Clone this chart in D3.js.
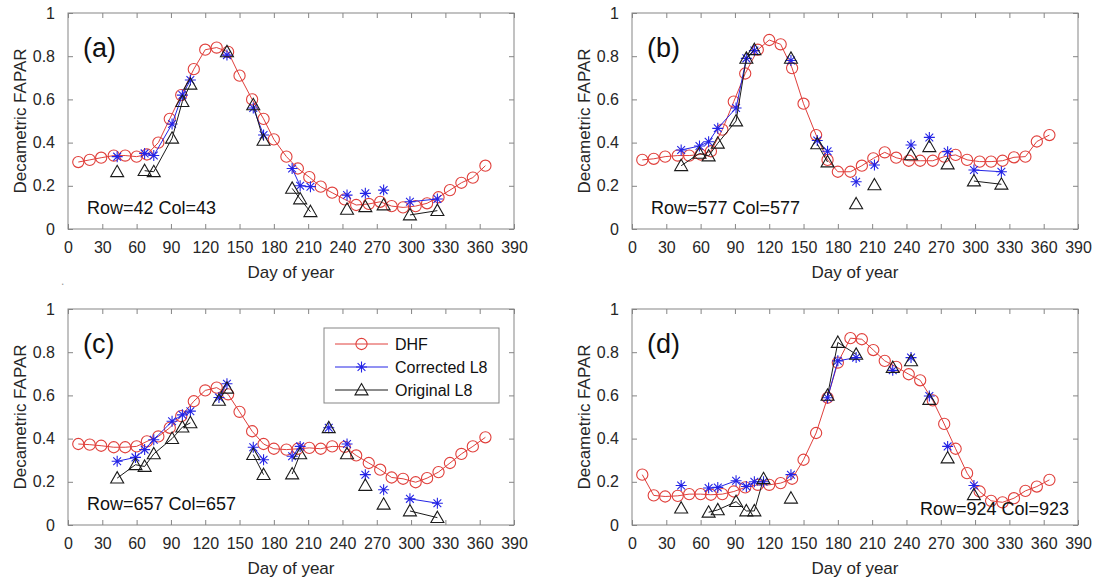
<!DOCTYPE html>
<html>
<head>
<meta charset="utf-8">
<script src="https://cdn.jsdelivr.net/npm/d3@7"></script>
<style>
  html, body { margin: 0; padding: 0; background: #fff; }
  svg { display: block; font-family: "Liberation Sans", Arial, Helvetica, sans-serif; }
</style>
</head>
<body>
<svg id="chart" width="1097" height="584"></svg>
<script>
// ---------------- DATA ----------------
const xTicks = [0, 30, 60, 90, 120, 150, 180, 210, 240, 270, 300, 330, 360, 390];
const yTicks = [0, 0.2, 0.4, 0.6, 0.8, 1];
const yTickLabels = ["0", "0.2", "0.4", "0.6", "0.8", "1"];
const seriesNames = ["DHF", "Corrected L8", "Original L8"];
const panelLabels = ["(a)", "(b)", "(c)", "(d)"];
const pixelLabels = ["Row=42 Col=43", "Row=577 Col=577", "Row=657 Col=657", "Row=924 Col=923"];

// DHF (dekadal) days
const dhfDays = [9, 19, 29, 40, 50, 60, 69, 79, 89, 99, 110, 120, 130, 140, 150, 161, 171, 180,
                 191, 201, 211, 221, 231, 242, 252, 263, 273, 283, 293, 304, 314, 324, 334, 344, 354, 365];

const dhfA = [0.31, 0.32, 0.33, 0.34, 0.34, 0.335, 0.345, 0.40, 0.51, 0.62, 0.74, 0.83, 0.84, 0.82, 0.71, 0.60, 0.51, 0.415,
              0.335, 0.28, 0.24, 0.196, 0.168, 0.137, 0.111, 0.116, 0.126, 0.106, 0.10, 0.106, 0.119, 0.147, 0.18, 0.214, 0.238, 0.293];
const dhfB = [0.32, 0.325, 0.335, 0.34, 0.34, 0.345, 0.36, 0.46, 0.59, 0.72, 0.83, 0.875, 0.855, 0.745, 0.58, 0.435, 0.32, 0.265,
              0.265, 0.293, 0.327, 0.355, 0.33, 0.316, 0.316, 0.316, 0.335, 0.343, 0.32, 0.312, 0.312, 0.316, 0.332, 0.335, 0.405, 0.435];
const dhfC = [0.375, 0.372, 0.367, 0.36, 0.36, 0.364, 0.387, 0.41, 0.45, 0.504, 0.573, 0.623, 0.636, 0.605, 0.524, 0.434, 0.375, 0.353,
              0.349, 0.353, 0.357, 0.353, 0.364, 0.362, 0.322, 0.287, 0.256, 0.22, 0.214, 0.198, 0.217, 0.245, 0.287, 0.329, 0.364, 0.406];
const dhfD = [0.233, 0.137, 0.132, 0.135, 0.143, 0.143, 0.14, 0.143, 0.155, 0.174, 0.186, 0.186, 0.194, 0.214, 0.302, 0.426, 0.589, 0.752,
              0.865, 0.86, 0.81, 0.76, 0.732, 0.698, 0.67, 0.577, 0.468, 0.353, 0.24, 0.155, 0.112, 0.105, 0.124, 0.158, 0.178, 0.209];

// Landsat 8 acquisitions (null = break in the line)
const l8DaysA = [43, null, 67, 75, 91, 100, 107, null, 139, null, 162, 171, null, 196, 203, 212, null, 244, null, 260, null, 276, null, 299, 323];
const corrA   = [0.335, null, 0.35, 0.34, 0.486, 0.62, 0.69, null, 0.805, null, 0.56, 0.435, null, 0.28, 0.2, 0.196, null, 0.157, null, 0.165, null, 0.18, null, 0.126, 0.139];
const origA   = [0.265, null, 0.27, 0.265, 0.42, 0.59, 0.67, null, 0.82, null, 0.575, 0.41, null, 0.188, 0.139, 0.08, null, 0.091, null, 0.103, null, 0.111, null, 0.065, 0.085];

const l8DaysB = [43, 59, 67, 75, 91, 100, 107, null, 139, null, 162, 171, null, 196, null, 212, null, 244, null, 260, null, 276, null, 299, 323];
const corrB   = [0.366, 0.384, 0.404, 0.466, 0.56, 0.79, 0.826, null, 0.78, null, 0.41, 0.36, null, 0.219, null, 0.296, null, 0.389, null, 0.424, null, 0.358, null, 0.273, 0.265];
const origB   = [0.293, 0.35, 0.338, 0.397, 0.5, 0.79, 0.83, null, 0.79, null, 0.394, 0.31, null, 0.116, null, 0.204, null, 0.343, null, 0.381, null, 0.301, null, 0.222, 0.207];

const l8DaysC = [43, 59, 67, 75, 91, 100, 107, null, 132, 139, null, 162, 171, null, 196, 203, null, 228, null, 244, null, 260, null, 276, null, 299, 323];
const corrC   = [0.295, 0.313, 0.349, 0.395, 0.48, 0.51, 0.527, null, 0.59, 0.654, null, 0.36, 0.302, null, 0.318, 0.364, null, 0.45, null, 0.375, null, 0.233, null, 0.163, null, 0.121, 0.101];
const origC   = [0.217, 0.279, 0.271, 0.329, 0.4, 0.453, 0.473, null, 0.577, 0.633, null, 0.326, 0.233, null, 0.236, 0.329, null, 0.45, null, 0.329, null, 0.183, null, 0.096, null, 0.065, 0.034];

const l8DaysD = [43, null, 67, 75, 91, 100, 107, 115, null, 139, null, 171, 180, 196, null, 228, null, 244, null, 260, null, 276, null, 299];
const corrD   = [0.183, null, 0.171, 0.174, 0.205, 0.178, 0.2, 0.2, null, 0.233, null, 0.589, 0.76, 0.775, null, 0.716, null, 0.775, null, 0.597, null, 0.364, null, 0.183];
const origD   = [0.078, null, 0.059, 0.07, 0.108, 0.065, 0.065, 0.214, null, 0.124, null, 0.6, 0.845, 0.79, null, 0.729, null, 0.76, null, 0.581, null, 0.31, null, 0.14];

// ---------------- LAYOUT / STYLE ----------------
const COL_RED = "#e0403c", COL_BLUE = "#2424e6", COL_BLACK = "#1a1a1a";
const AX_COL = "#858585", TXT_COL = "#262626";
const PW = 446, PH = 216;
const panels = [
  { left: 68,  top: 13,  dhf: dhfA, days: l8DaysA, corr: corrA, orig: origA, infoRight: false, legend: false },
  { left: 632, top: 13,  dhf: dhfB, days: l8DaysB, corr: corrB, orig: origB, infoRight: false, legend: false },
  { left: 68,  top: 309, dhf: dhfC, days: l8DaysC, corr: corrC, orig: origC, infoRight: false, legend: true },
  { left: 632, top: 309, dhf: dhfD, days: l8DaysD, corr: corrD, orig: origD, infoRight: true,  legend: false }
];

const svg = d3.select("#chart");
svg.append("rect").attr("width", 1097).attr("height", 584).attr("fill", "#fff");

function asteriskPath(r) {
  const d = r * Math.SQRT1_2;
  return `M${-r},0L${r},0M0,${-r}L0,${r}M${-d},${-d}L${d},${d}M${-d},${d}L${d},${-d}`;
}
function trianglePath(s) {
  return `M0,${-s}L${s * 1.0},${s * 0.75}L${-s * 1.0},${s * 0.75}Z`;
}

function drawMarker(g, type, x, y) {
  if (type === "circle") {
    g.append("circle").attr("cx", x).attr("cy", y).attr("r", 5.6)
      .attr("fill", "none").attr("stroke", COL_RED).attr("stroke-width", 1.1);
  } else if (type === "star") {
    g.append("path").attr("transform", `translate(${x},${y})`).attr("d", asteriskPath(5.5))
      .attr("fill", "none").attr("stroke", COL_BLUE).attr("stroke-width", 1.1);
  } else {
    g.append("path").attr("transform", `translate(${x},${y})`).attr("d", trianglePath(6.5))
      .attr("fill", "none").attr("stroke", COL_BLACK).attr("stroke-width", 1.1);
  }
}

panels.forEach((p, i) => {
  const x = d3.scaleLinear().domain([0, 390]).range([p.left, p.left + PW]);
  const y = d3.scaleLinear().domain([0, 1]).range([p.top + PH, p.top]);
  const g = svg.append("g");

  // axes (ticks inside, MATLAB-like box)
  const fmtY = d => yTickLabels[yTicks.indexOf(d)];
  const styleAxis = (sel) => {
    sel.select(".domain").remove();
    sel.selectAll(".tick line").attr("stroke", AX_COL);
    sel.selectAll(".tick text").attr("fill", TXT_COL).attr("font-size", 16)
      .attr("font-family", "'Liberation Sans', Arial, sans-serif");
  };
  g.append("g").attr("transform", `translate(0,${p.top + PH})`)
    .call(d3.axisBottom(x).tickValues(xTicks).tickFormat(d3.format("d")).tickSize(-5).tickPadding(13))
    .call(styleAxis);
  g.append("g").attr("transform", `translate(0,${p.top})`)
    .call(d3.axisTop(x).tickValues(xTicks).tickFormat("").tickSize(-5))
    .call(styleAxis);
  g.append("g").attr("transform", `translate(${p.left},0)`)
    .call(d3.axisLeft(y).tickValues(yTicks).tickFormat(fmtY).tickSize(-5).tickPadding(13))
    .call(styleAxis);
  g.append("g").attr("transform", `translate(${p.left + PW},0)`)
    .call(d3.axisRight(y).tickValues(yTicks).tickFormat("").tickSize(-5))
    .call(styleAxis);
  g.append("rect").attr("x", p.left).attr("y", p.top).attr("width", PW).attr("height", PH)
    .attr("fill", "none").attr("stroke", AX_COL).attr("stroke-width", 1);

  // axis titles
  g.append("text").attr("x", p.left + PW / 2).attr("y", p.top + PH + 49)
    .attr("text-anchor", "middle").attr("font-size", 17).attr("fill", TXT_COL).text("Day of year");
  g.append("text").attr("transform", `translate(${p.left - 42},${p.top + PH / 2}) rotate(-90)`)
    .attr("text-anchor", "middle").attr("font-size", 17).attr("fill", TXT_COL).text("Decametric FAPAR");

  // series
  const dhfData = dhfDays.map((d, k) => ({ d: d, v: p.dhf[k] }));
  const corrData = p.days.map((d, k) => ({ d: d, v: p.corr[k] }));
  const origData = p.days.map((d, k) => ({ d: d, v: p.orig[k] }));
  const line = d3.line().defined(o => o.d != null && o.v != null).x(o => x(o.d)).y(o => y(o.v));

  const series = [
    { data: dhfData, color: COL_RED, marker: "circle" },
    { data: corrData, color: COL_BLUE, marker: "star" },
    { data: origData, color: COL_BLACK, marker: "tri" }
  ];
  series.forEach(s => {
    g.append("path").datum(s.data).attr("d", line).attr("fill", "none")
      .attr("stroke", s.color).attr("stroke-width", 1);
    s.data.filter(o => o.d != null && o.v != null).forEach(o => drawMarker(g, s.marker, x(o.d), y(o.v)));
  });

  // panel letters and pixel info
  g.append("text").attr("x", p.left + 15).attr("y", p.top + 44).attr("font-size", 27)
    .attr("fill", "#111").text(panelLabels[i]);
  if (p.infoRight) {
    g.append("text").attr("x", p.left + PW - 9).attr("y", p.top + PH - 10).attr("text-anchor", "end")
      .attr("font-size", 18).attr("fill", "#111").text(pixelLabels[i]);
  } else {
    g.append("text").attr("x", p.left + 19).attr("y", p.top + PH - 15)
      .attr("font-size", 18).attr("fill", "#111").text(pixelLabels[i]);
  }

  // legend
  if (p.legend) {
    const lx = p.left + 256, ly = p.top + 19, lw = 175, lh = 75;
    const lg = g.append("g");
    lg.append("rect").attr("x", lx).attr("y", ly).attr("width", lw).attr("height", lh)
      .attr("fill", "#fff").attr("stroke", AX_COL).attr("stroke-width", 1);
    seriesNames.forEach((name, k) => {
      const yy = ly + 16 + k * 23;
      lg.append("line").attr("x1", lx + 11).attr("x2", lx + 64).attr("y1", yy).attr("y2", yy)
        .attr("stroke", series[k].color).attr("stroke-width", 1);
      drawMarker(lg, series[k].marker, lx + 37.5, yy);
      lg.append("text").attr("x", lx + 71).attr("y", yy + 6).attr("font-size", 16)
        .attr("fill", "#111").text(name);
    });
  }
});

// stray dot present in the original figure
svg.append("text").attr("x", 61).attr("y", 285).attr("font-size", 12).attr("fill", "#999").text(".");
</script>
</body>
</html>
